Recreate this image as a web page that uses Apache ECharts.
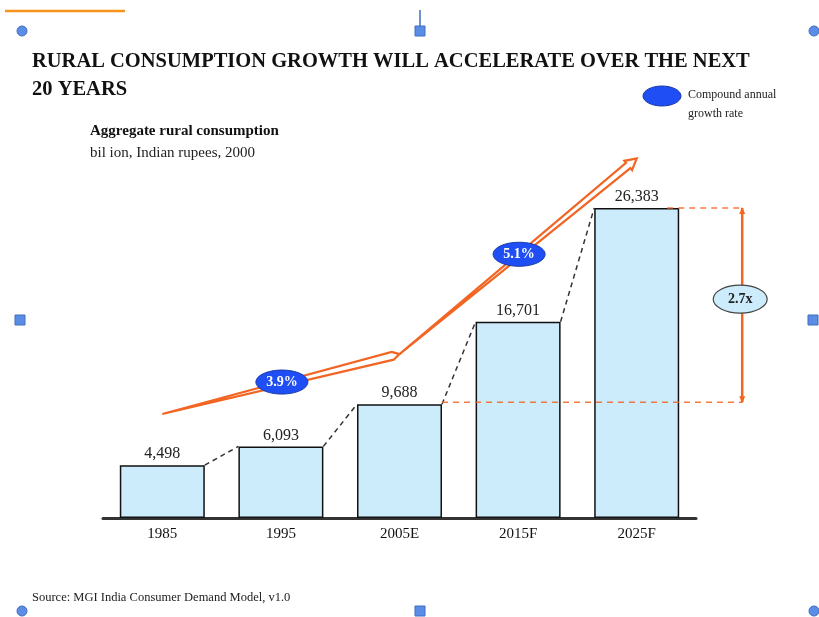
<!DOCTYPE html>
<html>
<head>
<meta charset="utf-8">
<title>Rural consumption growth</title>
<script src="https://cdn.jsdelivr.net/npm/echarts@6.0.0/dist/echarts.min.js"></script>
<style>
  html, body { margin: 0; padding: 0; background: #fff; }
  #chart { width: 819px; height: 617px; }
</style>
</head>
<body>
<div id="chart"></div>
<script>
// 数据
var categories = ['1985', '1995', '2005E', '2015F', '2025F'];
var consumption = [4498, 6093, 9688, 16701, 26383];
// 增长箭头: [起点类目, 起点值, 终点类目, 终点值, 箭头类型]
var growthArrow = [
  [0, 8850, 2, 13950, 0],
  [2, 13950, 4, 30600, 1]
];
var growthLabels = ['3.9%', '5.1%'];
var ratioPair = [2, 4];

var SERIF = '"Liberation Serif", "Times New Roman", serif';
var ORANGE = '#f26522';
var HALF_BAR = 42.5;

var chart = echarts.init(document.getElementById('chart'));

// 柱顶之间的黑色虚线
function renderLink(params, api) {
  var i = api.value(0);
  var a = api.coord([i, consumption[i]]);
  var b = api.coord([i + 1, consumption[i + 1]]);
  return {
    type: 'line',
    shape: { x1: a[0] + HALF_BAR, y1: a[1], x2: b[0] - HALF_BAR, y2: b[1] },
    style: { stroke: '#333', lineWidth: 1.5, lineDash: [5, 4] }
  };
}

// 橙色空心箭头 + 年均增长率
function renderArrow(params, api) {
  var p0 = api.coord([api.value(0), api.value(1)]);
  var p1 = api.coord([api.value(2), api.value(3)]);
  var head = api.value(4);
  var dx = p1[0] - p0[0], dy = p1[1] - p0[1];
  var len = Math.sqrt(dx * dx + dy * dy);
  var ux = dx / len, uy = dy / len, nx = -uy, ny = ux;
  var pts;
  if (head) {
    var b = [p1[0] - ux * 11, p1[1] - uy * 11];
    pts = [
      p0,
      [b[0] + nx * 3.5, b[1] + ny * 3.5],
      [b[0] + nx * 6, b[1] + ny * 6],
      p1,
      [b[0] - nx * 6, b[1] - ny * 6],
      [b[0] - nx * 3.5, b[1] - ny * 3.5]
    ];
  } else {
    var c = [p1[0] - ux * 7, p1[1] - uy * 7];
    pts = [p0, [c[0] + nx * 4, c[1] + ny * 4], p1, [c[0] - nx * 4, c[1] - ny * 4]];
  }
  var mx = (p0[0] + p1[0]) / 2, my = (p0[1] + p1[1]) / 2;
  return {
    type: 'group',
    children: [
      { type: 'polygon', shape: { points: pts }, style: { fill: '#fff', stroke: ORANGE, lineWidth: 2.2, lineJoin: 'miter' } },
      { type: 'ellipse', shape: { cx: mx + 1, cy: my - 2, rx: 26, ry: 12 }, style: { fill: '#1f4ef5', stroke: '#1a3aa8', lineWidth: 1 } },
      { type: 'text', x: mx + 1, y: my - 2, style: { text: growthLabels[params.dataIndex], fill: '#fff', font: 'bold 14px ' + SERIF, align: 'center', verticalAlign: 'middle' } }
    ]
  };
}

// 2.7x 倍数标注
function renderRatio(params, api) {
  var from = api.value(0), to = api.value(1);
  var lo = api.coord([from, consumption[from]]);
  var hi = api.coord([to, consumption[to]]);
  var xr = hi[0] + HALF_BAR + 63;
  var cy = (lo[1] + hi[1]) / 2 - 7;
  var ratio = (consumption[to] / consumption[from]).toFixed(1) + 'x';
  var dash = { stroke: ORANGE, lineWidth: 1.5, lineDash: [6, 5], opacity: 0.85 };
  return {
    type: 'group',
    children: [
      { type: 'line', shape: { x1: lo[0] + HALF_BAR, y1: lo[1] - 2, x2: xr, y2: lo[1] - 2 }, style: dash },
      { type: 'line', shape: { x1: hi[0] + HALF_BAR - 12, y1: hi[1], x2: xr, y2: hi[1] }, style: dash },
      { type: 'line', shape: { x1: xr, y1: hi[1], x2: xr, y2: lo[1] - 2 }, style: { stroke: ORANGE, lineWidth: 2.5 } },
      { type: 'polygon', shape: { points: [[xr, hi[1] - 1], [xr - 3, hi[1] + 6], [xr + 3, hi[1] + 6]] }, style: { fill: ORANGE } },
      { type: 'polygon', shape: { points: [[xr, lo[1] - 1], [xr - 3, lo[1] - 8], [xr + 3, lo[1] - 8]] }, style: { fill: ORANGE } },
      { type: 'ellipse', shape: { cx: xr - 2, cy: cy, rx: 27, ry: 14 }, style: { fill: '#ccecfc', stroke: '#444', lineWidth: 1.2 } },
      { type: 'text', x: xr - 2, y: cy, style: { text: ratio, fill: '#222', font: 'bold 14px ' + SERIF, align: 'center', verticalAlign: 'middle' } }
    ]
  };
}

var HANDLE = { fill: '#5b8de6', stroke: '#3f6fc0', lineWidth: 1 };
function circleHandle(x, y) {
  return { type: 'circle', shape: { cx: x, cy: y, r: 5 }, style: HANDLE, silent: true };
}
function squareHandle(x, y) {
  return { type: 'rect', shape: { x: x - 5, y: y - 5, width: 10, height: 10 }, style: HANDLE, silent: true };
}

var option = {
  backgroundColor: '#fff',
  animation: false,
  grid: { left: 103, right: 123, top: 165.5, bottom: 99 },
  xAxis: {
    type: 'category',
    data: categories,
    axisLine: { lineStyle: { color: '#333', width: 3 } },
    axisTick: { show: false },
    axisLabel: { color: '#111', fontFamily: SERIF, fontSize: 15, margin: 9 }
  },
  yAxis: {
    type: 'value',
    min: 0,
    max: 30000,
    show: false
  },
  series: [
    {
      type: 'bar',
      data: consumption,
      barWidth: 85,
      itemStyle: { color: '#ccecfc', borderColor: '#111', borderWidth: 1.5 },
      label: {
        show: true,
        position: 'top',
        distance: 3,
        color: '#222',
        fontFamily: SERIF,
        fontSize: 16,
        formatter: function (p) { return p.value.toLocaleString('en-US'); }
      },
      z: 1
    },
    {
      type: 'custom',
      renderItem: renderLink,
      data: [[0], [1], [2], [3]],
      clip: false,
      z: 3
    },
    {
      type: 'custom',
      renderItem: renderRatio,
      data: [ratioPair],
      clip: false,
      z: 3
    },
    {
      type: 'custom',
      renderItem: renderArrow,
      encode: { x: [0, 2], y: [1, 3] },
      data: growthArrow,
      clip: false,
      z: 4
    }
  ],
  graphic: [
    { type: 'line', shape: { x1: 5, y1: 11, x2: 125, y2: 11 }, style: { stroke: '#f7941d', lineWidth: 2.5 }, silent: true },
    { type: 'line', shape: { x1: 420, y1: 10, x2: 420, y2: 27 }, style: { stroke: '#3f6fc0', lineWidth: 1.5 }, silent: true },
    circleHandle(22, 31), squareHandle(420, 31), circleHandle(814, 31),
    squareHandle(20, 320), squareHandle(813, 320),
    circleHandle(22, 611), squareHandle(420, 611), circleHandle(814, 611),
    {
      type: 'text', left: 32, top: 51,
      style: { text: 'RURAL CONSUMPTION GROWTH WILL ACCELERATE OVER THE NEXT', fill: '#111', font: 'bold 20.5px ' + SERIF }
    },
    {
      type: 'text', left: 32, top: 79,
      style: { text: '20 YEARS', fill: '#111', font: 'bold 20.5px ' + SERIF }
    },
    {
      type: 'text', left: 90, top: 124,
      style: { text: 'Aggregate rural consumption', fill: '#111', font: 'bold 15px ' + SERIF }
    },
    {
      type: 'text', left: 90, top: 146,
      style: { text: 'bil ion, Indian rupees, 2000', fill: '#222', font: '15px ' + SERIF }
    },
    { type: 'ellipse', shape: { cx: 662, cy: 96, rx: 19, ry: 10 }, style: { fill: '#1f4ef5', stroke: '#1a3aa8', lineWidth: 1 }, silent: true },
    {
      type: 'text', left: 688, top: 85,
      style: { text: 'Compound annual\ngrowth rate', fill: '#222', font: '12px ' + SERIF, lineHeight: 19 }
    },
    {
      type: 'text', left: 32, top: 591,
      style: { text: 'Source: MGI India Consumer Demand Model, v1.0', fill: '#222', font: '12.5px ' + SERIF }
    }
  ]
};

chart.setOption(option);
</script>
</body>
</html>
